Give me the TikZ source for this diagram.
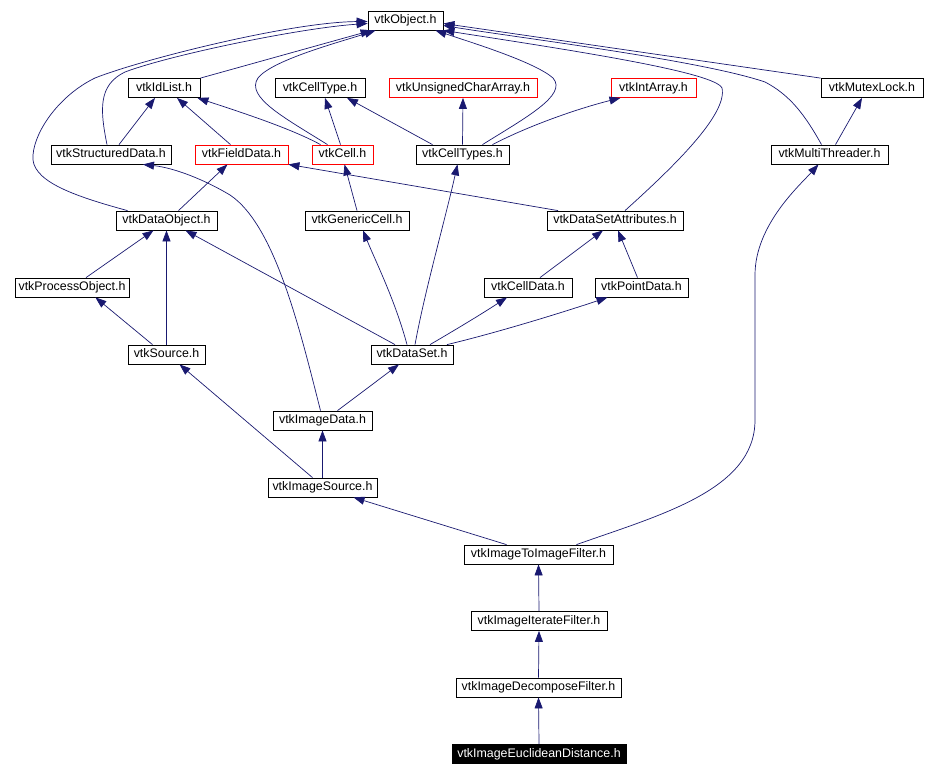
\documentclass[tikz,border=0pt]{standalone}
\usepackage{fontspec}
\setmainfont{Liberation Sans}
\usepackage{tikz}
\usetikzlibrary{arrows.meta}
\definecolor{edgeblue}{RGB}{25,25,112}
\definecolor{missing}{RGB}{255,0,0}

\begin{document}
\begin{tikzpicture}[x=1pt,y=-1pt,
  file/.style={draw=black,line width=0.8pt,inner sep=0pt,minimum height=19pt,text height=9pt,text depth=2.5pt,font=\fontsize{12.4}{14}\selectfont},
  nodoc/.style={file,draw=missing},
  self/.style={file,fill=black,text=white},
  dep/.style={draw=edgeblue,line width=0.7pt,-{Triangle[length=11pt,width=8pt]}}]

\useasboundingbox (0,0) rectangle (925,776);

\node[file,minimum width=75pt] (obj) at (405.5,20.5) {vtkObject.h};

\node[file,minimum width=72pt] (idlist) at (164,88) {vtkIdList.h};
\node[file,minimum width=90pt] (celltype) at (320,88) {vtkCellType.h};
\node[nodoc,minimum width=148pt] (uchararr) at (463,88) {vtkUnsignedCharArray.h};
\node[nodoc,minimum width=85pt] (intarr) at (653.5,88) {vtkIntArray.h};
\node[file,minimum width=102pt] (mutex) at (872,88) {vtkMutexLock.h};

\node[file,minimum width=120pt] (sdata) at (111,154.5) {vtkStructuredData.h};
\node[nodoc,minimum width=93pt] (fdata) at (241.5,154.5) {vtkFieldData.h};
\node[nodoc,minimum width=61pt] (cell) at (342.5,154.5) {vtkCell.h};
\node[file,minimum width=93pt] (celltypes) at (462.5,154.5) {vtkCellTypes.h};
\node[file,minimum width=117pt] (mthread) at (829.5,154.5) {vtkMultiThreader.h};

\node[file,minimum width=101pt] (dobj) at (166.5,220.5) {vtkDataObject.h};
\node[file,minimum width=104pt] (gcell) at (357,220.5) {vtkGenericCell.h};
\node[file,minimum width=136pt] (dsattr) at (615,220.5) {vtkDataSetAttributes.h};

\node[file,minimum width=114pt] (pobj) at (72,287.5) {vtkProcessObject.h};
\node[file,minimum width=88pt] (cdata) at (528,287.5) {vtkCellData.h};
\node[file,minimum width=93pt] (pdata) at (641.5,287.5) {vtkPointData.h};

\node[file,minimum width=77pt] (src) at (166.5,354.5) {vtkSource.h};
\node[file,minimum width=82pt] (dset) at (412,354.5) {vtkDataSet.h};

\node[file,minimum width=99pt] (idata) at (322.5,420.5) {vtkImageData.h};
\node[file,minimum width=109pt] (isrc) at (322.5,487.5) {vtkImageSource.h};
\node[file,minimum width=149pt] (i2i) at (538.5,554.5) {vtkImageToImageFilter.h};
\node[file,minimum width=136pt] (iiter) at (539,621) {vtkImageIterateFilter.h};
\node[file,minimum width=165pt] (idecomp) at (538.5,687.5) {vtkImageDecomposeFilter.h};
\node[self,minimum width=174pt] (ieucl) at (539,754) {vtkImageEuclideanDistance.h};

\draw[dep] (idlist.north east) -- ([xshift=4pt]obj.south west);
\draw[dep] ([xshift=-4pt]sdata.north) .. controls (100,110) and (98,85) .. (125,72) .. controls (170,55) and (300,28) .. ([yshift=-3pt]obj.west);
\draw[dep] ([xshift=-39pt]dobj.north) .. controls (70,195) and (30,180) .. (33,155) .. controls (35,130) and (60,95) .. (95,78) .. controls (140,60) and (290,22) .. ([yshift=-1pt]obj.west);
\draw[dep] ([xshift=-15pt]cell.north) .. controls (285,118) and (245,97) .. (258,78) .. controls (272,60) and (340,42) .. ([xshift=8pt]obj.south west);
\draw[dep] ([xshift=20pt]celltypes.north) .. controls (525,118) and (568,95) .. (553,78) .. controls (535,62) and (470,42) .. ([xshift=-8pt]obj.south east);
\draw[dep] ([xshift=10pt]dsattr.north) .. controls (670,170) and (728,115) .. (722,88) .. controls (715,72) and (570,50) .. (obj.south east);
\draw[dep] ([xshift=-8pt]mthread.north) .. controls (805,115) and (790,95) .. (765,82) .. controls (700,60) and (520,38) .. ([yshift=-5pt]obj.east);
\draw[dep] (mutex.north west) -- ([yshift=-3pt]obj.east);

\draw[dep] ([xshift=8pt]sdata.north) -- ([xshift=-9pt]idlist.south);
\draw[dep] ([xshift=-11pt]fdata.north) -- ([xshift=13pt]idlist.south);
\draw[dep] ([xshift=-22pt]cell.north) .. controls (290,128) and (240,112) .. ([xshift=-3pt]idlist.south east);
\draw[dep] ([xshift=-2pt]cell.north) -- ([xshift=5pt]celltype.south);
\draw[dep] ([xshift=-30pt]celltypes.north) -- ([xshift=27pt]celltype.south);
\draw[dep] (celltypes.north) -- (uchararr.south);
\draw[dep] ([xshift=30pt]celltypes.north) .. controls (530,125) and (580,108) .. ([xshift=-33pt]intarr.south);
\draw[dep] ([xshift=6pt]mthread.north) -- ([xshift=-10pt]mutex.south);

\draw[dep] ([xshift=12pt]dobj.north) -- ([xshift=-14pt]fdata.south);
\draw[dep] (gcell.north) -- ([xshift=2pt]cell.south);
\draw[dep] ([xshift=-57pt]dsattr.north) -- (fdata.south east);

\draw[dep] ([xshift=14pt]pobj.north) -- ([xshift=-13pt]dobj.south);
\draw[dep] (src.north) -- (dobj.south);
\draw[dep] ([xshift=-14pt]src.north) -- ([xshift=-34pt]pobj.south east);
\draw[dep] ([xshift=-17pt]dset.north) -- ([xshift=19pt]dobj.south);
\draw[dep] ([xshift=-5pt]dset.north) .. controls (395,300) and (375,260) .. ([xshift=6pt]gcell.south);
\draw[dep] ([xshift=3pt]dset.north) .. controls (425,290) and (445,220) .. ([xshift=-5pt]celltypes.south);
\draw[dep] ([xshift=18pt]dset.north) .. controls (455,330) and (480,315) .. ([xshift=-21pt]cdata.south);
\draw[dep] ([xshift=35pt]dset.north) .. controls (500,332) and (570,310) .. ([xshift=-34pt]pdata.south);
\draw[dep] ([xshift=12pt]cdata.north) -- ([xshift=-12pt]dsattr.south);
\draw[dep] ([xshift=-4pt]pdata.north) -- ([xshift=3pt]dsattr.south);

\draw[dep] ([xshift=-2pt]idata.north) .. controls (300,330) and (275,225) .. (230,195) .. controls (205,180) and (175,168) .. ([xshift=32pt]sdata.south);
\draw[dep] ([xshift=15pt]idata.north) -- ([xshift=-13pt]dset.south);
\draw[dep] (isrc.north) -- (idata.south);
\draw[dep] ([xshift=-10pt]isrc.north) -- ([xshift=13pt]src.south);
\draw[dep] ([xshift=-32pt]i2i.north) -- ([xshift=31pt]isrc.south);
\draw[dep] ([xshift=38pt]i2i.north) .. controls (660,515) and (755,490) .. (755,420) -- (755,275) .. controls (755,225) and (800,185) .. ([xshift=-11pt]mthread.south);
\draw[dep] (iiter.north) -- (i2i.south);
\draw[dep] (idecomp.north) -- (iiter.south);
\draw[dep] (ieucl.north) -- (idecomp.south);
\end{tikzpicture}
\end{document}
